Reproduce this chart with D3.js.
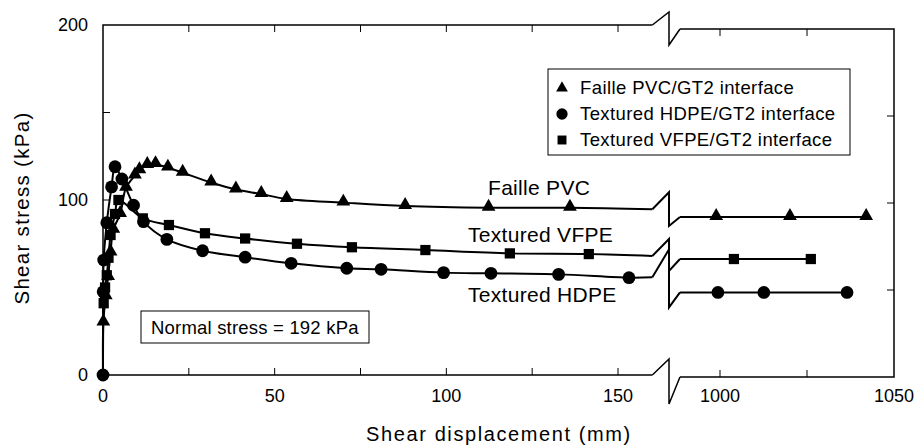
<!DOCTYPE html>
<html><head><meta charset="utf-8">
<script src="https://cdnjs.cloudflare.com/ajax/libs/d3/7.8.5/d3.min.js"></script>
<style>
html,body{margin:0;padding:0;background:#fff;}
text{font-family:"Liberation Sans",Arial,Helvetica,sans-serif;fill:#000;}
</style></head>
<body><svg id="c" width="916" height="448"></svg>
<script>
// ---------- data (shear displacement mm, shear stress kPa) ----------
const pvcX  = [0, 0.1, 0.8, 1.5, 2.2, 3, 5, 6.7, 9.3, 10.6, 12.9, 15.3, 18.9, 23.2, 31.5, 38.7, 46.1, 53.5, 70, 88, 112.3, 136];
const pvcY  = [0, 30, 45, 56, 70, 83, 92, 107, 114, 117, 120, 120.5, 118.5, 115.6, 110, 106, 103.4, 100.6, 98.5, 96.6, 95.6, 95.6];
const hdpeX = [0, 0.05, 0.2, 1.1, 2.5, 3.5, 5.5, 8.9, 11.8, 18.6, 29, 41.4, 54.8, 71, 81, 99.2, 113, 132.7, 153.2];
const hdpeY = [0, 47.6, 65.7, 87, 107.5, 119, 112, 97, 87.6, 77.5, 71, 67.3, 63.8, 61, 60.4, 58.5, 58.1, 57.5, 55.6];
const vfpeX = [0, 0.2, 0.6, 1.1, 1.6, 2.2, 3.5, 4.5, 11.6, 19.2, 29.7, 41.4, 56.5, 72.5, 93.9, 118.5, 141.5];
const vfpeY = [0, 41, 50, 57, 67, 80, 92, 100, 89.5, 85.7, 81, 78, 75, 73, 71.4, 69.5, 69.1];
// curve values where the left panel is broken off (at breakX)
const breakX = 160;
const breakEndY = {pvc: 94.7, vfpe: 68, hdpe: 55.8};
// right panel (large displacements)
const rightStartX = 988.5;
const pvcRX  = [998.9, 1020.1, 1042];   const pvcRY  = [92, 92, 92];
const vfpeRX = [1004, 1026.1];          const vfpeRY = [67.8, 67.8];
const hdpeRX = [999.4, 1012.6, 1036.5]; const hdpeRY = [48.6, 48.6, 48.6];
// ticks
const xTicksL = [0, 25, 50, 75, 100, 125, 150];
const xLabelsL = [0, 50, 100, 150];
const xTicksR = [1000, 1025];
const xLabelsR = [1000, 1050];
const yTicks = [0, 50, 100, 150, 200];
const yLabels = [0, 100, 200];
const legendLabels = ["Faille PVC/GT2 interface", "Textured HDPE/GT2 interface", "Textured VFPE/GT2 interface"];
const curveLabels = ["Faille PVC", "Textured VFPE", "Textured HDPE"];
const noteText = "Normal stress = 192 kPa";
const xTitle = "Shear displacement (mm)";
const yTitle = "Shear stress (kPa)";

// ---------- scales ----------
const xL = d3.scaleLinear().domain([0, 150]).range([103, 618]);
const yL = d3.scaleLinear().domain([0, 200]).range([375, 25]);
const xR = d3.scaleLinear().domain([1000, 1050]).range([720, 894]);
const yR = d3.scaleLinear().domain([0, 200]).range([377, 29]);

const svg = d3.select("#c");
const g = svg.append("g");

// ---------- frame ----------
const frameW = 1.5;
function zig(x0, y0, x1, y1, up, down) {
  const xm = 669;
  return `M${x0},${y0}L${xm},${y0 - up}L${xm},${y1 + down}L${x1},${y1}`;
}
g.append("path").attr("d", `M${xL(breakX)},${yL(200)}L${xL(0)},${yL(200)}L${xL(0)},${yL(0)}L${xL(breakX)},${yL(0)}`)
  .attr("fill", "none").attr("stroke", "#000").attr("stroke-width", frameW);
g.append("path").attr("d", `M${xR(rightStartX)},${yR(200)}L${xR(1050)},${yR(200)}L${xR(1050)},${yR(0)}L${xR(rightStartX)},${yR(0)}`)
  .attr("fill", "none").attr("stroke", "#000").attr("stroke-width", frameW);
g.append("path").attr("d", zig(xL(breakX), yL(200), xR(rightStartX), yR(200), 13, 16))
  .attr("fill", "none").attr("stroke", "#000").attr("stroke-width", frameW);
g.append("path").attr("d", zig(xL(breakX), yL(0), xR(rightStartX), yR(0), 16, 27))
  .attr("fill", "none").attr("stroke", "#000").attr("stroke-width", frameW);

// ticks
const tl = 7;
xTicksL.forEach(t => {
  if (t === 0) return;
  g.append("line").attr("x1", xL(t)).attr("x2", xL(t)).attr("y1", yL(0)).attr("y2", yL(0) - tl).attr("stroke", "#000").attr("stroke-width", 1);
  g.append("line").attr("x1", xL(t)).attr("x2", xL(t)).attr("y1", yL(200)).attr("y2", yL(200) + tl).attr("stroke", "#000").attr("stroke-width", 1);
});
xTicksR.forEach(t => {
  g.append("line").attr("x1", xR(t)).attr("x2", xR(t)).attr("y1", yR(0)).attr("y2", yR(0) - tl).attr("stroke", "#000").attr("stroke-width", 1);
  g.append("line").attr("x1", xR(t)).attr("x2", xR(t)).attr("y1", yR(200)).attr("y2", yR(200) + tl).attr("stroke", "#000").attr("stroke-width", 1);
});
yTicks.forEach(t => {
  if (t === 0 || t === 200) return;
  g.append("line").attr("x1", xL(0)).attr("x2", xL(0) + tl).attr("y1", yL(t)).attr("y2", yL(t)).attr("stroke", "#000").attr("stroke-width", 1);
  g.append("line").attr("x1", xR(1050)).attr("x2", xR(1050) - tl).attr("y1", yR(t)).attr("y2", yR(t)).attr("stroke", "#000").attr("stroke-width", 1);
});
// tick labels
const tickFont = 18;
xLabelsL.forEach(t => g.append("text").attr("x", xL(t)).attr("y", 402).attr("text-anchor", "middle").attr("font-size", tickFont).text(t));
xLabelsR.forEach(t => g.append("text").attr("x", xR(t)).attr("y", 402).attr("text-anchor", "middle").attr("font-size", tickFont).text(t));
yLabels.forEach(t => g.append("text").attr("x", 88).attr("y", yL(t)).attr("dy", "0.36em").attr("text-anchor", "end").attr("font-size", tickFont).text(t));
// axis titles
g.append("text").attr("x", 499).attr("y", 441).attr("text-anchor", "middle").attr("font-size", 20).attr("letter-spacing", 1.6).text(xTitle);
g.append("text").attr("transform", "translate(29,208) rotate(-90)").attr("text-anchor", "middle").attr("font-size", 20.5).attr("letter-spacing", 1.3).text(yTitle);

// ---------- curves ----------
const lw = 2;
const line = d3.line().x(d => xL(d[0])).y(d => yL(d[1])).curve(d3.curveCatmullRom.alpha(0.5));
const lineR = d3.line().x(d => xR(d[0])).y(d => yR(d[1]));
const series = [
  {key: "pvc", xs: pvcX, ys: pvcY, rx: pvcRX, ry: pvcRY, sym: d3.symbolTriangle, size: 82, up: 17, down: 9},
  {key: "vfpe", xs: vfpeX, ys: vfpeY, rx: vfpeRX, ry: vfpeRY, sym: d3.symbolSquare, size: 105, up: 17, down: 12},
  {key: "hdpe", xs: hdpeX, ys: hdpeY, rx: hdpeRX, ry: hdpeRY, sym: d3.symbolCircle, size: 128, up: 28, down: 15}
];
series.forEach(s => {
  const pts = s.xs.map((x, i) => [x, s.ys[i]]);
  pts.push([breakX, breakEndY[s.key]]);
  g.append("path").attr("d", line(pts)).attr("fill", "none").attr("stroke", "#000").attr("stroke-width", lw);
  g.append("path").attr("d", zig(xL(breakX), yL(breakEndY[s.key]), xR(rightStartX), yR(s.ry[0]), s.up, s.down))
    .attr("fill", "none").attr("stroke", "#000").attr("stroke-width", lw);
  const rpts = [[rightStartX, s.ry[0]]].concat(s.rx.map((x, i) => [x, s.ry[i]]));
  g.append("path").attr("d", lineR(rpts)).attr("fill", "none").attr("stroke", "#000").attr("stroke-width", lw);
});
series.forEach(s => {
  const sym = d3.symbol().type(s.sym).size(s.size);
  const yoff = s.sym === d3.symbolTriangle ? -1 : 0;
  s.xs.forEach((x, i) => {
    if (i === 0 && s.key !== "hdpe") return;
    g.append("path").attr("d", sym()).attr("transform", `translate(${xL(x)},${yL(s.ys[i]) + yoff})`).attr("fill", "#000");
  });
  s.rx.forEach((x, i) => {
    g.append("path").attr("d", sym()).attr("transform", `translate(${xR(x)},${yR(s.ry[i]) + yoff})`).attr("fill", "#000");
  });
});

// curve labels
const clFont = 21;
g.append("text").attr("x", 488).attr("y", 195).attr("font-size", clFont).attr("letter-spacing", 0.3).text(curveLabels[0]);
g.append("text").attr("x", 468).attr("y", 242).attr("font-size", clFont).attr("letter-spacing", 0.3).text(curveLabels[1]);
g.append("text").attr("x", 468).attr("y", 302).attr("font-size", clFont).attr("letter-spacing", 0.3).text(curveLabels[2]);

// ---------- legend ----------
g.append("rect").attr("x", 548).attr("y", 69).attr("width", 302).attr("height", 86)
  .attr("fill", "#fff").attr("stroke", "#000").attr("stroke-width", 1);
const legSyms = [d3.symbolTriangle, d3.symbolCircle, d3.symbolSquare];
const legSizes = [60, 100, 80];
legendLabels.forEach((t, i) => {
  const by = 94 + i * 26;
  g.append("path").attr("d", d3.symbol().type(legSyms[i]).size(legSizes[i])()).attr("transform", `translate(562,${by - 6})`).attr("fill", "#000");
  g.append("text").attr("x", 580).attr("y", by).attr("font-size", 18.5).attr("letter-spacing", 0.4).text(t);
});

// ---------- note box ----------
g.append("rect").attr("x", 141).attr("y", 311).attr("width", 228).attr("height", 32)
  .attr("fill", "#fff").attr("stroke", "#000").attr("stroke-width", 1);
g.append("text").attr("x", 151).attr("y", 334).attr("font-size", 18.5).attr("letter-spacing", 0.2).text(noteText);
</script>
</body></html>
